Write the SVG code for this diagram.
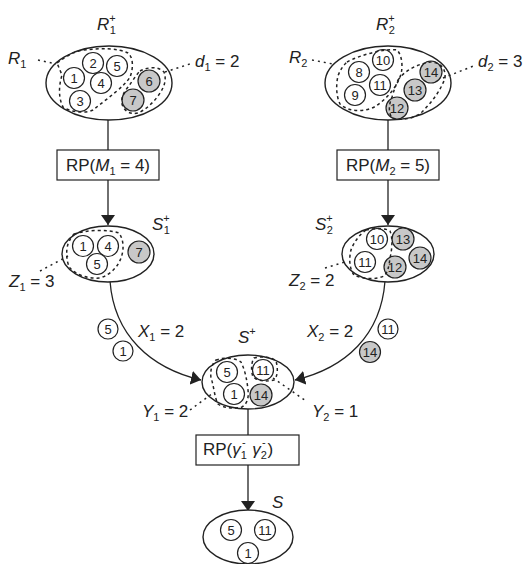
<svg xmlns="http://www.w3.org/2000/svg" width="526" height="564" viewBox="0 0 526 564">
<defs>
<marker id="ah" viewBox="0 0 10 14" refX="10" refY="7" markerWidth="10" markerHeight="14" markerUnits="userSpaceOnUse" orient="auto">
<path d="M0,0 L10,7 L0,14 Z" fill="#222"/>
</marker>
</defs>
<style>
text{font-family:"Liberation Sans",Arial,sans-serif;fill:#222}
.lbl{font-size:17px}
.it{font-style:italic}
.sm{font-size:11px}
.num{font-size:13px;text-anchor:middle}
.big{fill:#fff;stroke:#222;stroke-width:1.4}
.c{fill:#fff;stroke:#222;stroke-width:1.2}
.g{fill:#c8c8c8;stroke:#222;stroke-width:1.2}
.dash{fill:none;stroke:#222;stroke-width:1.5;stroke-dasharray:3 3}
.lead{fill:none;stroke:#222;stroke-width:1.5;stroke-dasharray:2 4}
.box{fill:#fff;stroke:#222;stroke-width:1.2}
.conn{fill:none;stroke:#222;stroke-width:1.3}
</style>

<g id="connectors">
<line class="conn" x1="108" y1="120" x2="108" y2="150"/>
<line class="conn" x1="108" y1="180" x2="108" y2="225" marker-end="url(#ah)"/>
<line class="conn" x1="388" y1="120" x2="388" y2="150"/>
<line class="conn" x1="388" y1="180" x2="388" y2="225" marker-end="url(#ah)"/>
<path class="conn" d="M110,281 C114,335 150,368 201,380" marker-end="url(#ah)"/>
<path class="conn" d="M385,281 C381,335 346,368 295,380" marker-end="url(#ah)"/>
<line class="conn" x1="248" y1="408" x2="248" y2="435"/>
<line class="conn" x1="248" y1="465" x2="248" y2="511" marker-end="url(#ah)"/>
</g>

<g id="R1plus">
<ellipse class="big" cx="109" cy="83" rx="63" ry="37"/>
<circle class="c" cx="74" cy="78" r="10.5"/><text class="num" x="74" y="82.5">1</text>
<circle class="c" cx="93" cy="63" r="10.5"/><text class="num" x="93" y="67.5">2</text>
<circle class="c" cx="117" cy="66" r="10.5"/><text class="num" x="117" y="70.5">5</text>
<circle class="c" cx="101" cy="83" r="10.5"/><text class="num" x="101" y="87.5">4</text>
<circle class="c" cx="80" cy="101" r="10.5"/><text class="num" x="80" y="105.5">3</text>
<circle class="g" cx="149" cy="81" r="11"/><text class="num" x="149" y="85.5">6</text>
<circle class="g" cx="133" cy="100" r="11"/><text class="num" x="133" y="104.5">7</text>
<path class="dash" d="M57,63 C68,55 75,51 84,50 C100,48 118,48 128,53 C134,58 133,70 130,77 C125,86 108,98 93,110 C85,114 70,112 63,107 C58,97 59,85 62,75 Z"/>
<path class="dash" d="M140,71 C148,67 158,66 164,72 C167,80 164,88 158,96 C152,104 145,110 138,113 C130,115 124,111 122,104 C121,97 124,92 128,87 C132,82 136,75 140,71 Z"/>
<line class="lead" x1="38" y1="60" x2="56" y2="64"/>
<line class="lead" x1="165" y1="72" x2="193" y2="63"/>
<text class="lbl" x="97" y="30"><tspan class="it">R</tspan><tspan class="sm" dy="-8">+</tspan><tspan class="sm" dx="-6" dy="12">1</tspan></text>
<text class="lbl" x="8" y="64"><tspan class="it">R</tspan><tspan class="sm" dy="4">1</tspan></text>
<text class="lbl" x="195" y="67"><tspan class="it">d</tspan><tspan class="sm" dy="4">1</tspan><tspan dy="-4"> = 2</tspan></text>
</g>

<g id="R2plus">
<ellipse class="big" cx="388" cy="83" rx="63" ry="37"/>
<circle class="c" cx="383" cy="60" r="10.5"/><text class="num" x="383" y="64.5">10</text>
<circle class="c" cx="359" cy="72" r="10.5"/><text class="num" x="359" y="76.5">8</text>
<circle class="c" cx="380" cy="85" r="10.5"/><text class="num" x="380" y="89.5">11</text>
<circle class="c" cx="355" cy="95" r="10.5"/><text class="num" x="355" y="99.5">9</text>
<circle class="g" cx="431" cy="72" r="11"/><text class="num" x="431" y="76.5">14</text>
<circle class="g" cx="415" cy="90" r="11"/><text class="num" x="415" y="94.5">13</text>
<circle class="g" cx="397" cy="108" r="11"/><text class="num" x="397" y="112.5">12</text>
<path class="dash" d="M347,62 C360,55 385,48 397,50 C402,55 403,66 401,74 C398,85 388,98 376,106 C366,112 350,113 340,104 C336,96 336,84 338,76 C340,70 343,66 347,62 Z"/>
<path class="dash" d="M398,80 C405,70 418,64 430,62 C440,62 446,68 445,78 C441,90 432,102 422,112 C414,119 400,121 392,118 C388,112 389,104 392,97 C394,90 396,85 398,80 Z"/>
<line class="lead" x1="312" y1="60" x2="333" y2="64"/>
<line class="lead" x1="443" y1="78" x2="476" y2="65"/>
<text class="lbl" x="376" y="30"><tspan class="it">R</tspan><tspan class="sm" dy="-8">+</tspan><tspan class="sm" dx="-6" dy="12">2</tspan></text>
<text class="lbl" x="289" y="63"><tspan class="it">R</tspan><tspan class="sm" dy="4">2</tspan></text>
<text class="lbl" x="478" y="67"><tspan class="it">d</tspan><tspan class="sm" dy="4">2</tspan><tspan dy="-4"> = 3</tspan></text>
</g>

<g id="RP1">
<rect class="box" x="57" y="150" width="102" height="30"/>
<text class="lbl" x="108" y="171" text-anchor="middle">RP(<tspan class="it">M</tspan><tspan class="sm" dy="4">1</tspan><tspan dy="-4"> = 4)</tspan></text>
</g>

<g id="RP2">
<rect class="box" x="337" y="150" width="102" height="30"/>
<text class="lbl" x="388" y="171" text-anchor="middle">RP(<tspan class="it">M</tspan><tspan class="sm" dy="4">2</tspan><tspan dy="-4"> = 5)</tspan></text>
</g>

<g id="S1plus">
<ellipse class="big" cx="108" cy="254" rx="46" ry="28"/>
<circle class="c" cx="83" cy="246" r="10.5"/><text class="num" x="83" y="250.5">1</text>
<circle class="c" cx="108" cy="246" r="10.5"/><text class="num" x="108" y="250.5">4</text>
<circle class="c" cx="97" cy="264" r="10.5"/><text class="num" x="97" y="268.5">5</text>
<circle class="g" cx="139" cy="252" r="11"/><text class="num" x="139" y="256.5">7</text>
<path class="dash" d="M74,234 C86,230 108,229 119,233 C124,240 124,250 121,258 C118,266 112,274 100,278 C88,279 76,275 70,268 C66,262 66,250 68,244 C70,239 72,236 74,234 Z"/>
<line class="lead" x1="40" y1="271" x2="68" y2="256"/>
<text class="lbl" x="152" y="230"><tspan class="it">S</tspan><tspan class="sm" dy="-8">+</tspan><tspan class="sm" dx="-6" dy="12">1</tspan></text>
<text class="lbl" x="9" y="287"><tspan class="it">Z</tspan><tspan class="sm" dy="4">1</tspan><tspan dy="-4"> = 3</tspan></text>
</g>

<g id="S2plus">
<ellipse class="big" cx="388" cy="254" rx="46" ry="28"/>
<circle class="c" cx="377" cy="239" r="10.5"/><text class="num" x="377" y="243.5">10</text>
<circle class="g" cx="403" cy="239" r="11"/><text class="num" x="403" y="243.5">13</text>
<circle class="g" cx="420" cy="258" r="11"/><text class="num" x="420" y="262.5">14</text>
<circle class="c" cx="365" cy="262" r="10.5"/><text class="num" x="365" y="266.5">11</text>
<circle class="g" cx="395" cy="267" r="11"/><text class="num" x="395" y="271.5">12</text>
<path class="dash" d="M366,230 C375,228 386,228 390,231 C393,238 392,250 390,258 C389,266 388,272 384,276 C376,280 362,279 354,275 C349,268 349,258 351,250 C354,242 360,234 366,230 Z"/>
<line class="lead" x1="325" y1="268" x2="348" y2="261"/>
<text class="lbl" x="315" y="230"><tspan class="it">S</tspan><tspan class="sm" dy="-8">+</tspan><tspan class="sm" dx="-6" dy="12">2</tspan></text>
<text class="lbl" x="289" y="286"><tspan class="it">Z</tspan><tspan class="sm" dy="4">2</tspan><tspan dy="-4"> = 2</tspan></text>
</g>

<g id="X1">
<circle class="c" cx="108" cy="329" r="10"/><text class="num" x="108" y="333.5">5</text>
<circle class="c" cx="123" cy="351" r="10"/><text class="num" x="123" y="355.5">1</text>
<text class="lbl" x="138" y="337"><tspan class="it">X</tspan><tspan class="sm" dy="4">1</tspan><tspan dy="-4"> = 2</tspan></text>
</g>

<g id="X2">
<circle class="c" cx="388" cy="329" r="10"/><text class="num" x="388" y="333.5">11</text>
<circle class="g" cx="370" cy="352" r="10.5"/><text class="num" x="370" y="356.5">14</text>
<text class="lbl" x="307" y="337"><tspan class="it">X</tspan><tspan class="sm" dy="4">2</tspan><tspan dy="-4"> = 2</tspan></text>
</g>

<g id="Splus">
<ellipse class="big" cx="248" cy="382" rx="46" ry="27"/>
<circle class="c" cx="227" cy="372" r="10.5"/><text class="num" x="227" y="376.5">5</text>
<circle class="c" cx="263" cy="370" r="10.5"/><text class="num" x="263" y="374.5">11</text>
<circle class="c" cx="234" cy="394" r="10.5"/><text class="num" x="234" y="398.5">1</text>
<circle class="g" cx="261" cy="395" r="11"/><text class="num" x="261" y="399.5">14</text>
<path class="dash" d="M216,360 C224,357 236,358 241,362 C245,370 247,380 248,390 C249,398 247,404 242,407 C234,409 224,408 218,404 C214,396 214,386 211,378 C210,370 212,364 216,360 Z"/>
<path class="dash" d="M254,358 C262,356 272,357 276,361 C278,368 278,376 274,380 C266,382 258,381 253,377 C251,371 251,363 254,358 Z"/>
<line class="lead" x1="190" y1="410" x2="213" y2="393"/>
<line class="lead" x1="273" y1="378" x2="306" y2="401"/>
<text class="lbl" x="238" y="343"><tspan class="it">S</tspan><tspan class="sm" dy="-8">+</tspan></text>
<text class="lbl" x="142" y="417"><tspan class="it">Y</tspan><tspan class="sm" dy="4">1</tspan><tspan dy="-4"> = 2</tspan></text>
<text class="lbl" x="312" y="417"><tspan class="it">Y</tspan><tspan class="sm" dy="4">2</tspan><tspan dy="-4"> = 1</tspan></text>
</g>

<g id="RP3">
<rect class="box" x="196" y="435" width="103" height="30"/>
<text class="lbl" x="203" y="455">RP(<tspan class="it">γ</tspan><tspan class="sm" dy="4">1</tspan><tspan class="sm" dx="-5" dy="-13">-</tspan><tspan dx="2" dy="9"> </tspan><tspan class="it">γ</tspan><tspan class="sm" dy="4">2</tspan><tspan class="sm" dx="-5" dy="-13">-</tspan><tspan dx="2" dy="9">)</tspan></text>
</g>

<g id="S">
<ellipse class="big" cx="248" cy="537" rx="45" ry="27"/>
<circle class="c" cx="231" cy="530" r="10.5"/><text class="num" x="231" y="534.5">5</text>
<circle class="c" cx="265" cy="530" r="10.5"/><text class="num" x="265" y="534.5">11</text>
<circle class="c" cx="248" cy="553" r="10.5"/><text class="num" x="248" y="557.5">1</text>
<text class="lbl it" x="272" y="508">S</text>
</g>
</svg>
